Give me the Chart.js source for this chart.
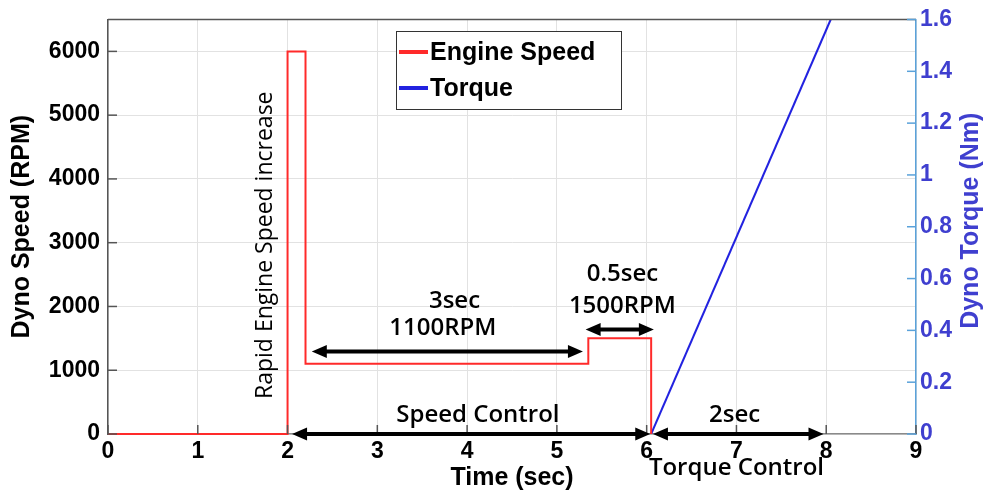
<!DOCTYPE html>
<html>
<head>
<meta charset="utf-8">
<script src="https://cdn.jsdelivr.net/npm/chart.js@4.4.1/dist/chart.umd.min.js"></script>
<style>
  html, body { margin: 0; padding: 0; background: #fff; }
</style>
</head>
<body>
<canvas id="chartCanvas" width="989" height="493"></canvas>
<script>
// engine speed profile: time (sec) / speed (RPM)
const speedTime = [0, 2, 2, 2.2, 2.2, 5.35, 5.35, 6.05, 6.05];
const speedRpm = [0, 0, 6000, 6000, 1100, 1100, 1500, 1500, 0];
// dyno torque ramp: time (sec) / torque (Nm)
const torqueTime = [6.05, 8.05];
const torqueNm = [0, 1.6];

const timeTicks = [0, 1, 2, 3, 4, 5, 6, 7, 8, 9];
const speedTicks = [0, 1000, 2000, 3000, 4000, 5000, 6000];
const torqueTicks = [0, 0.2, 0.4, 0.6, 0.8, 1, 1.2, 1.4, 1.6];

const ARIAL = "'Liberation Sans', Arial, sans-serif";
const CAL = "'Open Sans', sans-serif";
const BLUE_TXT = '#3f3fcf';

// double arrows, in axis units
const arrows = [
  { x1: 2.27, x2: 5.29, y: 1295 },
  { x1: 5.32, x2: 6.08, y: 1640 },
  { x1: 2.05, x2: 6.04, y: 0 },
  { x1: 6.07, x2: 7.97, y: 0 }
];

// text notes, in axis units
const notes = [
  { text: '3sec', x: 3.86, y: 2090 },
  { text: '1100RPM', x: 3.73, y: 1654 },
  { text: '0.5sec', x: 5.73, y: 2512 },
  { text: '1500RPM', x: 5.73, y: 2012 },
  { text: 'Speed Control', x: 4.12, y: 296 },
  { text: '2sec', x: 6.98, y: 296 },
  { text: 'Torque Control', x: 7.0, y: -530 }
];

function toPoints(xs, ys) {
  return xs.map((x, i) => ({ x: x, y: ys[i] }));
}

function fixedTicks(values) {
  return function (scale) {
    scale.ticks = values.map(v => ({ value: v }));
  };
}

function plainLabel(value) {
  return String(value);
}

function drawArrow(ctx, xa, xb, y) {
  const head = 15, half = 6.5;
  ctx.save();
  ctx.strokeStyle = '#000';
  ctx.fillStyle = '#000';
  ctx.lineWidth = 4;
  ctx.beginPath();
  ctx.moveTo(xa + head - 2, y);
  ctx.lineTo(xb - head + 2, y);
  ctx.stroke();
  ctx.beginPath();
  ctx.moveTo(xa, y);
  ctx.lineTo(xa + head, y - half);
  ctx.lineTo(xa + head, y + half);
  ctx.closePath();
  ctx.fill();
  ctx.beginPath();
  ctx.moveTo(xb, y);
  ctx.lineTo(xb - head, y - half);
  ctx.lineTo(xb - head, y + half);
  ctx.closePath();
  ctx.fill();
  ctx.restore();
}

const annotations = {
  id: 'annotations',
  afterDatasetsDraw(chart) {
    const ctx = chart.ctx;
    const area = chart.chartArea;
    const xs = chart.scales.x, ys = chart.scales.y, ts = chart.scales.y2;

    ctx.save();
    // frame top edge
    ctx.strokeStyle = '#555';
    ctx.lineWidth = 1.5;
    ctx.beginPath();
    ctx.moveTo(area.left, area.top);
    ctx.lineTo(area.right, area.top);
    ctx.stroke();

    // inward tick marks
    ctx.lineWidth = 1.5;
    ctx.strokeStyle = '#555';
    speedTicks.forEach(v => {
      const py = ys.getPixelForValue(v);
      ctx.beginPath();
      ctx.moveTo(area.left, py);
      ctx.lineTo(area.left + 9, py);
      ctx.stroke();
    });
    timeTicks.forEach(v => {
      const px = xs.getPixelForValue(v);
      ctx.beginPath();
      ctx.moveTo(px, area.bottom);
      ctx.lineTo(px, area.bottom - 9);
      ctx.stroke();
    });
    ctx.strokeStyle = '#5aa2da';
    torqueTicks.forEach(v => {
      const py = ts.getPixelForValue(v);
      ctx.beginPath();
      ctx.moveTo(area.right, py);
      ctx.lineTo(area.right - 9, py);
      ctx.stroke();
    });
    ctx.restore();

    arrows.forEach(a => {
      drawArrow(ctx, xs.getPixelForValue(a.x1), xs.getPixelForValue(a.x2), ys.getPixelForValue(a.y));
    });

    ctx.save();
    ctx.fillStyle = '#000';
    ctx.textAlign = 'center';
    ctx.textBaseline = 'middle';
    ctx.font = '600 24px ' + CAL;
    notes.forEach(n => {
      ctx.fillText(n.text, xs.getPixelForValue(n.x), ys.getPixelForValue(n.y));
    });

    // vertical note beside the speed spike
    ctx.translate(xs.getPixelForValue(1.75), ys.getPixelForValue(2960));
    ctx.rotate(-Math.PI / 2);
    ctx.font = '23px ' + CAL;
    ctx.fillText('Rapid Engine Speed increase', 0, 0);
    ctx.restore();

    // right axis title, reading bottom to top
    ctx.save();
    ctx.translate(971, (area.top + area.bottom) / 2 - 6);
    ctx.rotate(-Math.PI / 2);
    ctx.textAlign = 'center';
    ctx.textBaseline = 'middle';
    ctx.fillStyle = BLUE_TXT;
    ctx.font = 'bold 25px ' + ARIAL;
    ctx.fillText('Dyno Torque (Nm)', 0, 0);
    ctx.restore();

    // legend box
    ctx.save();
    ctx.fillStyle = '#fff';
    ctx.fillRect(396, 31, 225, 78);
    ctx.strokeStyle = '#333';
    ctx.lineWidth = 1;
    ctx.strokeRect(396.5, 31.5, 225, 78);
    ctx.font = 'bold 25px ' + ARIAL;
    ctx.textBaseline = 'middle';
    chart.data.datasets.forEach((ds, i) => {
      const ly = 52 + i * 36;
      ctx.strokeStyle = ds.borderColor;
      ctx.lineWidth = 4;
      ctx.beginPath();
      ctx.moveTo(399, ly);
      ctx.lineTo(428, ly);
      ctx.stroke();
      ctx.fillStyle = '#000';
      ctx.fillText(ds.label, 430, ly + 1);
    });
    ctx.restore();
  }
};

const ctx = document.getElementById('chartCanvas').getContext('2d');
const chart = new Chart(ctx, {
  type: 'line',
  data: {
    datasets: [
      {
        label: 'Engine Speed',
        data: toPoints(speedTime, speedRpm),
        borderColor: '#ff2a2a',
        borderWidth: 2,
        pointRadius: 0,
        tension: 0,
        clip: 3,
        yAxisID: 'y'
      },
      {
        label: 'Torque',
        data: toPoints(torqueTime, torqueNm),
        borderColor: '#2222e0',
        borderWidth: 2,
        pointRadius: 0,
        tension: 0,
        yAxisID: 'y2'
      }
    ]
  },
  options: {
    responsive: false,
    animation: false,
    layout: { padding: { top: 17, left: 0, right: 0, bottom: 0 } },
    plugins: {
      legend: { display: false },
      tooltip: { enabled: false }
    },
    scales: {
      x: {
        type: 'linear',
        position: 'bottom',
        min: 0,
        max: 9,
        afterBuildTicks: fixedTicks(timeTicks),
        afterFit(scale) { scale.height = 59; },
        grid: { color: '#e2e2e2', drawTicks: false },
        border: { color: '#8a8a8a', width: 1.5 },
        ticks: { color: '#000', padding: 6, callback: plainLabel, font: { family: ARIAL, size: 23, weight: 'bold', lineHeight: 1 } },
        title: {
          display: true,
          text: 'Time (sec)',
          color: '#000',
          padding: { top: 0, bottom: 2 },
          font: { family: ARIAL, size: 25, weight: 'bold', lineHeight: 1 }
        }
      },
      y: {
        position: 'left',
        min: 0,
        max: 6500,
        afterBuildTicks: fixedTicks(speedTicks),
        afterFit(scale) { scale.width = 108; },
        grid: { color: '#e2e2e2', drawTicks: false },
        border: { color: '#555', width: 1.5 },
        ticks: { color: '#000', padding: 8, callback: plainLabel, font: { family: ARIAL, size: 23, weight: 'bold', lineHeight: 1 } },
        title: {
          display: true,
          text: 'Dyno Speed (RPM)',
          color: '#000',
          padding: { top: 10, bottom: 0 },
          font: { family: ARIAL, size: 25, weight: 'bold', lineHeight: 1 }
        }
      },
      y2: {
        position: 'right',
        min: 0,
        max: 1.6,
        afterBuildTicks: fixedTicks(torqueTicks),
        afterFit(scale) { scale.width = 73; },
        grid: { drawOnChartArea: false, drawTicks: false },
        border: { color: '#5aa2da', width: 1.5 },
        ticks: { color: BLUE_TXT, padding: 4, callback: plainLabel, font: { family: ARIAL, size: 23, weight: 'bold', lineHeight: 1 } }
      }
    }
  },
  plugins: [annotations]
});
</script>
</body>
</html>
